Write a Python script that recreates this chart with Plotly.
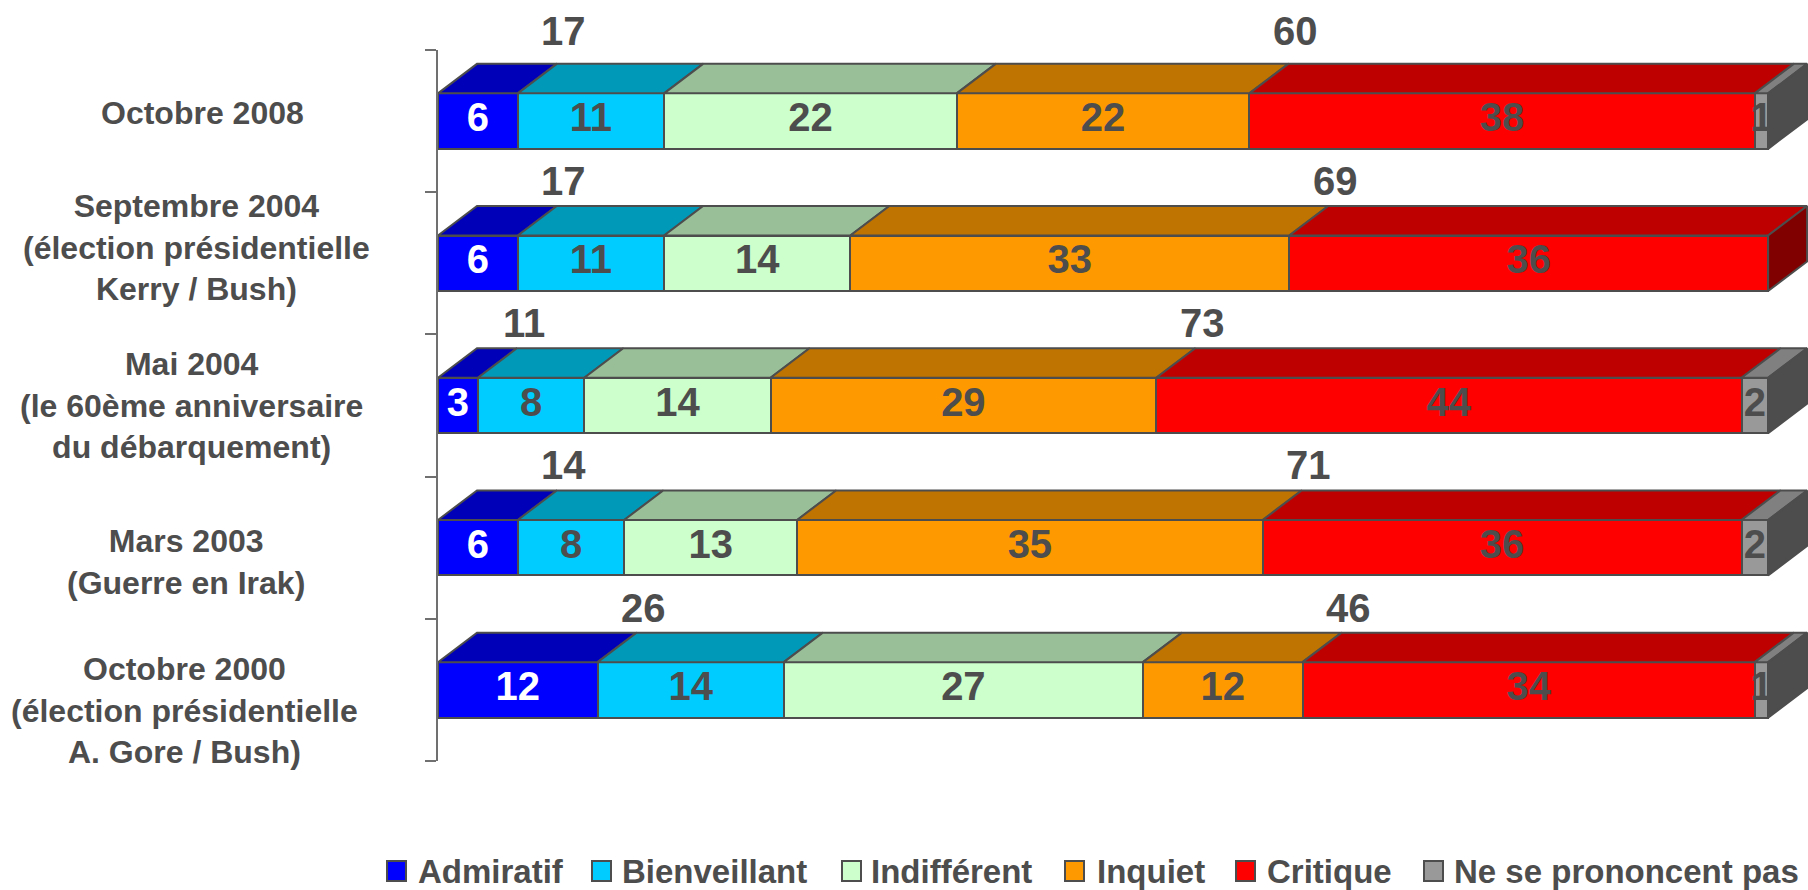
import plotly.graph_objects as go

# ---------------- data ----------------
categories = [
    "Octobre 2008",
    "Septembre 2004<br>(élection présidentielle<br>Kerry / Bush)",
    "Mai 2004<br>(le 60ème anniversaire<br>du débarquement)",
    "Mars 2003<br>(Guerre en Irak)",
    "Octobre 2000<br>(élection présidentielle<br>A. Gore / Bush)",
]
series_names = ["Admiratif", "Bienveillant", "Indifférent", "Inquiet", "Critique", "Ne se prononcent pas"]
admiratif = [6, 6, 3, 6, 12]
bienveillant = [11, 11, 8, 8, 14]
indifferent = [22, 14, 14, 13, 27]
inquiet = [22, 33, 29, 35, 12]
critique = [38, 36, 44, 36, 34]
nsp = [1, 0, 2, 2, 1]

# ---------------- style ----------------
FRONT = ["#0000FF", "#00CCFF", "#CCFFCC", "#FF9900", "#FF0000", "#999999"]
TOP = ["#0000B8", "#0099B8", "#99BF99", "#BF7300", "#BF0000", "#808080"]
SIDE = ["#00007A", "#006680", "#668066", "#804D00", "#800000", "#4D4D4D"]
LABEL_COLORS = ["#FFFFFF", "#4D4D4D", "#4D4D4D", "#4D4D4D", "#4D4D4D", "#4D4D4D"]
EDGE = "#4D4D4D"
TXT = "#4D4D4D"
FONT = "Arial, Liberation Sans, sans-serif"
NUM_SIZE = 40
LBL_SIZE = 32
LEG_SIZE = 33

W, H = 1808, 890
ML, MR, MT, MB = 438, 0, 50, 129
PW, PH = W - ML - MR, H - MT - MB
XMAX = 103.0
PX_X = PW / XMAX              # pixels per x unit
PX_Y = PH / 5.0               # pixels per category
BAR_W = 0.39
DX = 39 / PX_X                # 3-D depth, x units
DY = 29.5 / PX_Y              # 3-D depth, y units
TOTAL_OFF = [33, 25, 25, 25, 25]   # px above the top face, per row
TOTAL_XOFF = 7                # px

LABEL_X = [202, 196, 191, 186, 184]     # pixel centre of category labels
LABEL_Y = [112.7, 247, 405, 562, 710]   # pixel centre of category labels

LEG_SQ_X = [387, 592, 842, 1065, 1236, 1424]
LEG_TX_X = [416, 620, 869, 1095, 1265, 1452]
LEG_Y = 871

series = [admiratif, bienveillant, indifferent, inquiet, critique, nsp]
n = len(categories)
ypos = [n - 1 - i for i in range(n)]

fig = go.Figure()

# front faces (stacked bars)
for k, (name, vals) in enumerate(zip(series_names, series)):
    fig.add_trace(go.Bar(
        y=ypos, x=vals, orientation="h", width=BAR_W, name=name,
        marker=dict(color=FRONT[k], line=dict(color=EDGE, width=2)),
        showlegend=False, hoverinfo="x+name",
    ))

# cumulative bounds
starts, ends = [], []
for r in range(n):
    s = 0
    rs, re_ = [], []
    for vals in series:
        rs.append(s)
        s += vals[r]
        re_.append(s)
    starts.append(rs)
    ends.append(re_)

# top faces
for k in range(len(series)):
    xs, ys = [], []
    for r in range(n):
        if series[k][r] <= 0:
            continue
        x0, x1 = starts[r][k], ends[r][k]
        yt = ypos[r] + BAR_W / 2
        xs += [x0, x1, x1 + DX, x0 + DX, x0, None]
        ys += [yt, yt, yt + DY, yt + DY, yt, None]
    fig.add_trace(go.Scatter(
        x=xs, y=ys, mode="lines", fill="toself", fillcolor=TOP[k],
        line=dict(color=EDGE, width=2), showlegend=False, hoverinfo="skip",
    ))

# side faces at the right end
for r in range(n):
    last = max(k for k in range(len(series)) if series[k][r] > 0)
    xe = ends[r][-1]
    yb, yt = ypos[r] - BAR_W / 2, ypos[r] + BAR_W / 2
    fig.add_trace(go.Scatter(
        x=[xe, xe + DX, xe + DX, xe, xe], y=[yb, yb + DY, yt + DY, yt, yb],
        mode="lines", fill="toself", fillcolor=SIDE[last],
        line=dict(color=EDGE, width=2), showlegend=False, hoverinfo="skip",
    ))

# value labels
for k in range(len(series)):
    xs, ys, ts = [], [], []
    for r in range(n):
        v = series[k][r]
        if v <= 0:
            continue
        xs.append((starts[r][k] + ends[r][k]) / 2)
        ys.append(ypos[r])
        ts.append(str(v))
    fig.add_trace(go.Scatter(
        x=xs, y=ys, text=ts, mode="text", textposition="middle center",
        textfont=dict(family=FONT, size=NUM_SIZE, color=LABEL_COLORS[k], weight="bold"),
        showlegend=False, hoverinfo="skip", cliponaxis=False,
    ))

annotations = []
shapes = []

# group totals above the bars
pos_tot = [a + b for a, b in zip(admiratif, bienveillant)]
neg_tot = [a + b for a, b in zip(inquiet, critique)]
for r in range(n):
    ytop = ypos[r] + BAR_W / 2 + DY
    for xv, tv in ((ends[r][0] + DX, pos_tot[r]), (ends[r][3] + DX, neg_tot[r])):
        annotations.append(dict(
            xref="x", yref="y", x=xv, y=ytop, xshift=TOTAL_XOFF, yshift=TOTAL_OFF[r],
            xanchor="center", yanchor="middle", text=str(tv), showarrow=False,
            font=dict(family=FONT, size=NUM_SIZE, color=TXT, weight="bold"),
        ))

# category labels
for r in range(n):
    annotations.append(dict(
        xref="paper", yref="paper",
        x=(LABEL_X[r] - ML) / PW, y=(H - MB - LABEL_Y[r]) / PH,
        xanchor="center", yanchor="middle", align="center",
        text=categories[r], showarrow=False,
        font=dict(family=FONT, size=LBL_SIZE, color=TXT, weight="bold"),
    ))

# legend (manual)
for k, name in enumerate(series_names):
    x0 = (LEG_SQ_X[k] - ML) / PW
    x1 = (LEG_SQ_X[k] + 19 - ML) / PW
    y0 = (H - MB - (LEG_Y + 10)) / PH
    y1 = (H - MB - (LEG_Y - 10)) / PH
    shapes.append(dict(type="rect", xref="paper", yref="paper", x0=x0, x1=x1, y0=y0, y1=y1,
                       fillcolor=FRONT[k], line=dict(color=EDGE, width=2)))
    annotations.append(dict(
        xref="paper", yref="paper",
        x=(LEG_TX_X[k] - ML) / PW, y=(H - MB - LEG_Y) / PH,
        xanchor="left", yanchor="middle", text=name, showarrow=False,
        font=dict(family=FONT, size=LEG_SIZE, color=TXT, weight="bold"),
    ))

fig.update_layout(
    width=W, height=H,
    margin=dict(l=ML, r=MR, t=MT, b=MB, pad=0),
    barmode="stack", bargap=0,
    plot_bgcolor="white", paper_bgcolor="white",
    showlegend=False,
    xaxis=dict(range=[0, XMAX], visible=False, fixedrange=True),
    yaxis=dict(
        range=[-0.5, n - 0.5], showgrid=False, zeroline=False,
        showline=True, linecolor="#707070", linewidth=2,
        tickmode="array", tickvals=[i - 0.5 for i in range(n + 1)],
        ticktext=[""] * (n + 1), ticks="outside", ticklen=11, tickwidth=2,
        tickcolor="#707070", fixedrange=True,
    ),
    annotations=annotations, shapes=shapes,
)

fig.write_html(
    "out.html",
    config={"displayModeBar": False},
    post_script="document.body.style.margin='0px';document.body.style.overflow='hidden';",
)
